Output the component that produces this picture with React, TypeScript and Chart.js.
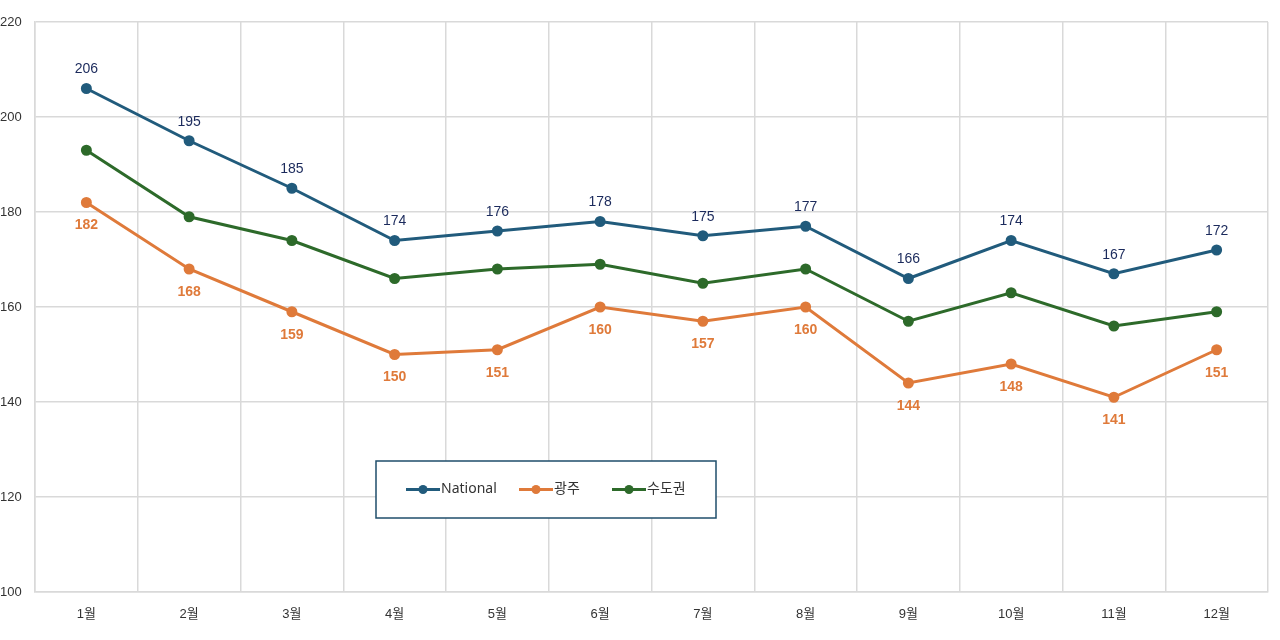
import { useEffect, useRef } from 'react'
import { Chart, registerables } from 'chart.js'

Chart.register(...registerables)

const months = ['1월', '2월', '3월', '4월', '5월', '6월', '7월', '8월', '9월', '10월', '11월', '12월']
const national = [206, 195, 185, 174, 176, 178, 175, 177, 166, 174, 167, 172]
const gwangju = [182, 168, 159, 150, 151, 160, 157, 160, 144, 148, 141, 151]
const capital = [193, 179, 174, 166, 168, 169, 165, 168, 157, 163, 156, 159]

const FONT = "'Liberation Sans', 'Noto Sans CJK KR', sans-serif"

// value labels: National above, 광주 below (bold)
const labelPlugin = {
  id: 'valueLabels',
  afterDatasetsDraw(chart) {
    const ctx = chart.ctx
    ctx.save()
    ctx.textAlign = 'center'
    ctx.textBaseline = 'middle'
    const m0 = chart.getDatasetMeta(0)
    ctx.font = `14px ${FONT}`
    ctx.fillStyle = '#1b2a5c'
    m0.data.forEach((p, i) => ctx.fillText(String(national[i]), p.x, p.y - 19))
    const m1 = chart.getDatasetMeta(1)
    ctx.font = `bold 14px ${FONT}`
    ctx.fillStyle = '#df7a3a'
    m1.data.forEach((p, i) => ctx.fillText(String(gwangju[i]), p.x, p.y + 23))
    ctx.restore()
  },
}

// boxed legend drawn inside the plot
const legendPlugin = {
  id: 'boxLegend',
  afterDraw(chart) {
    const ctx = chart.ctx
    const x0 = 376, y0 = 461, w = 340, h = 57
    ctx.save()
    ctx.fillStyle = '#ffffff'
    ctx.fillRect(x0, y0, w, h)
    ctx.strokeStyle = '#1f4e6b'
    ctx.lineWidth = 1.5
    ctx.strokeRect(x0, y0, w, h)
    const items = [
      { x: 406, text: 'National' },
      { x: 519, text: '광주' },
      { x: 612, text: '수도권' },
    ]
    const cy = y0 + 28.5
    ctx.textBaseline = 'middle'
    ctx.font = `14px 'Noto Sans', 'Noto Sans CJK KR', sans-serif`
    items.forEach((it, i) => {
      const ds = chart.data.datasets[i]
      ctx.strokeStyle = ds.borderColor
      ctx.lineWidth = 3
      ctx.beginPath()
      ctx.moveTo(it.x, cy)
      ctx.lineTo(it.x + 34, cy)
      ctx.stroke()
      ctx.fillStyle = ds.borderColor
      ctx.beginPath()
      ctx.arc(it.x + 17, cy, 4.5, 0, Math.PI * 2)
      ctx.fill()
      ctx.fillStyle = '#333333'
      ctx.fillText(it.text, it.x + 35, cy)
    })
    ctx.restore()
  },
}

export default function App() {
  const chartRef = useRef(null)
  const chartInstance = useRef(null)

  useEffect(() => {
    document.body.style.margin = '0'
    if (!chartRef.current) return
    if (chartInstance.current) chartInstance.current.destroy()

    const mk = (label, data, color) => ({
      label,
      data,
      borderColor: color,
      backgroundColor: color,
      borderWidth: 3,
      pointRadius: 4,
      pointHoverRadius: 4,
      tension: 0,
    })

    chartInstance.current = new Chart(chartRef.current.getContext('2d'), {
      type: 'line',
      data: {
        labels: months,
        datasets: [
          mk('National', national, '#215b7c'),
          mk('광주', gwangju, '#df7a3a'),
          mk('수도권', capital, '#2d6a2a'),
        ],
      },
      plugins: [labelPlugin, legendPlugin],
      options: {
        responsive: false,
        animation: false,
        layout: { padding: { top: 22, right: 12, left: 0, bottom: 0 } },
        plugins: {
          legend: { display: false },
          tooltip: { enabled: false },
        },
        scales: {
          x: {
            offset: true,
            grid: { offset: true, color: '#d9d9d9', lineWidth: 1.5, drawTicks: false },
            border: { color: '#d9d9d9', width: 1.5 },
            ticks: { color: '#333333', font: { family: FONT, size: 13 }, padding: 15 },
            afterFit: (s) => { s.height = 48 },
          },
          y: {
            min: 100,
            max: 220,
            ticks: {
              stepSize: 20,
              color: '#333333',
              font: { family: FONT, size: 13 },
              crossAlign: 'far',
              padding: 6,
            },
            grid: { color: '#d9d9d9', lineWidth: 1.5, drawTicks: false },
            border: { color: '#d9d9d9', width: 1.5 },
            afterFit: (s) => { s.width = 35 },
          },
        },
      },
    })

    return () => {
      if (chartInstance.current) chartInstance.current.destroy()
    }
  }, [])

  return <canvas ref={chartRef} width={1280} height={640} style={{ display: 'block' }} />
}
